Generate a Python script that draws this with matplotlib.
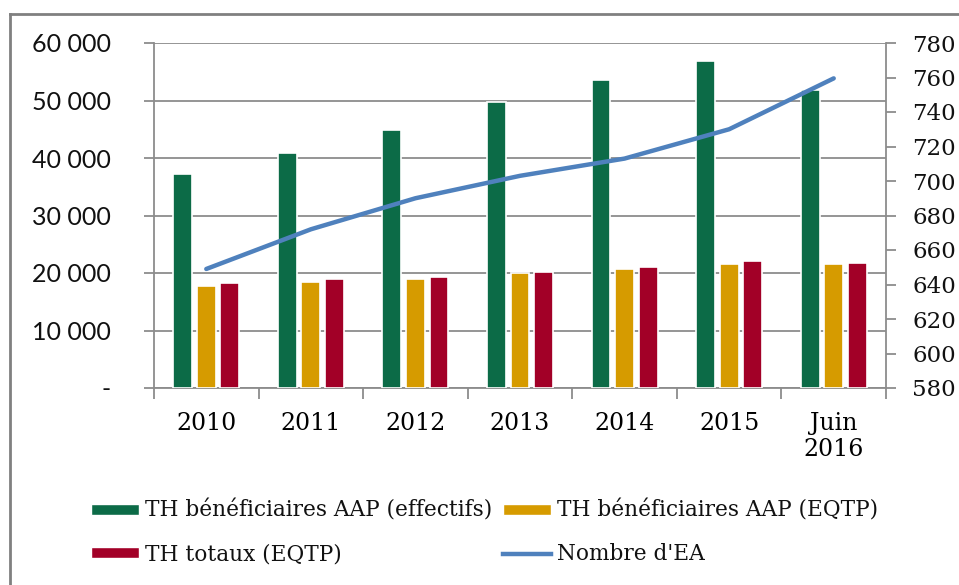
import matplotlib
matplotlib.use("Agg")
import matplotlib.pyplot as plt
import numpy as np
from matplotlib.lines import Line2D
from matplotlib.patches import Patch
from matplotlib.ticker import FuncFormatter

categories = ["2010", "2011", "2012", "2013", "2014", "2015", "Juin\n2016"]
aap_effectifs = [37200, 40800, 44800, 49800, 53500, 56900, 51800]
aap_eqtp = [17750, 18450, 18900, 19950, 20700, 21600, 21600]
totaux_eqtp = [18200, 18900, 19300, 20200, 21100, 22050, 21750]
nombre_ea = [649, 672, 690, 703, 713, 730, 759.5]

labels = ["TH bénéficiaires AAP (effectifs)", "TH bénéficiaires AAP (EQTP)",
          "TH totaux (EQTP)", "Nombre d'EA"]

GREEN = "#0C6B47"
ORANGE = "#D69B00"
RED = "#A20027"
BLUE = "#4F81BD"
GRID = "#8C8C8C"

serif = ["DejaVu Serif"]
sans = ["Lato", "DejaVu Sans"]

fig = plt.figure(figsize=(9.59, 5.85), dpi=100)
ax = fig.add_axes([154/959, 1-388/585, (886-154)/959, (388-43)/585])
ax2 = ax.twinx()

x = np.arange(len(categories))
w = 0.18
step = 0.225
ax.bar(x - step, aap_effectifs, w, color=GREEN, edgecolor="white", linewidth=1.2, zorder=3)
ax.bar(x, aap_eqtp, w, color=ORANGE, edgecolor="white", linewidth=1.2, zorder=3)
ax.bar(x + step, totaux_eqtp, w, color=RED, edgecolor="white", linewidth=1.2, zorder=3)

ax.set_xlim(-0.5, len(categories) - 0.5)
ax.set_ylim(0, 60000)
ax.set_yticks(np.arange(0, 60001, 10000))
ax.yaxis.set_major_formatter(FuncFormatter(
    lambda v, p: "-" if v == 0 else f"{int(v):,}".replace(",", " ")))
ax.grid(axis="y", color=GRID, linewidth=1.3, zorder=0)
ax.set_axisbelow(True)

ax.set_xticks(x)
ax.set_xticklabels(categories, fontfamily=serif, fontsize=17, linespacing=1.2)
ax.set_xticks(np.arange(-0.5, len(categories), 1), minor=True)
ax.tick_params(axis="x", which="major", length=0, pad=17)
ax.tick_params(axis="x", which="minor", length=8, color=GRID, width=1.3)
ax.tick_params(axis="y", length=7, color=GRID, width=1.3, pad=24)
for t in ax.get_yticklabels():
    t.set_fontfamily(sans)
    t.set_fontsize(18)
    t.set_color("#111111")

for s in ["top", "right"]:
    ax.spines[s].set_visible(False)
ax.spines["left"].set_color(GRID)
ax.spines["bottom"].set_color(GRID)
ax.spines["left"].set_linewidth(1.3)
ax.spines["bottom"].set_linewidth(1.3)

ax2.plot(x, nombre_ea, color=BLUE, linewidth=3.2, solid_capstyle="round", zorder=5)
ax2.set_ylim(580, 780)
ax2.set_yticks(np.arange(580, 781, 20))
ax2.tick_params(axis="y", length=7, color=GRID, width=1.3, pad=12)
for t in ax2.get_yticklabels():
    t.set_fontfamily(serif)
    t.set_fontsize(16.5)
    t.set_color("#111111")
for s in ["top", "left", "bottom"]:
    ax2.spines[s].set_visible(False)
ax2.spines["right"].set_color(GRID)
ax2.spines["right"].set_linewidth(1.3)

h_green = Patch(facecolor=GREEN, edgecolor="white")
h_orange = Patch(facecolor=ORANGE, edgecolor="white")
h_red = Patch(facecolor=RED, edgecolor="white")
h_blue = Line2D([0], [0], color=BLUE, linewidth=3.2)
# column-wise filling: col1 = effectifs, totaux ; col2 = AAP EQTP, Nombre
leg = fig.legend([h_green, h_red, h_orange, h_blue],
                 [labels[0], labels[2], labels[1], labels[3]],
                 ncol=2, frameon=False,
                 loc="upper left", bbox_to_anchor=(80/959, 1-489/585),
                 prop={"family": serif, "size": 15.6},
                 handlelength=2.2, handleheight=0.4, handletextpad=0.3,
                 columnspacing=0.5, labelspacing=1.0, borderpad=0)
for t in leg.get_texts():
    t.set_color("#111111")

# outer chart border
fig.add_artist(Line2D([10/959, 10/959], [0, 1-14/585], color="#808080", linewidth=2, transform=fig.transFigure))
fig.add_artist(Line2D([10/959, 1], [1-14/585, 1-14/585], color="#808080", linewidth=2, transform=fig.transFigure))

fig.savefig("out.png", dpi=100)
